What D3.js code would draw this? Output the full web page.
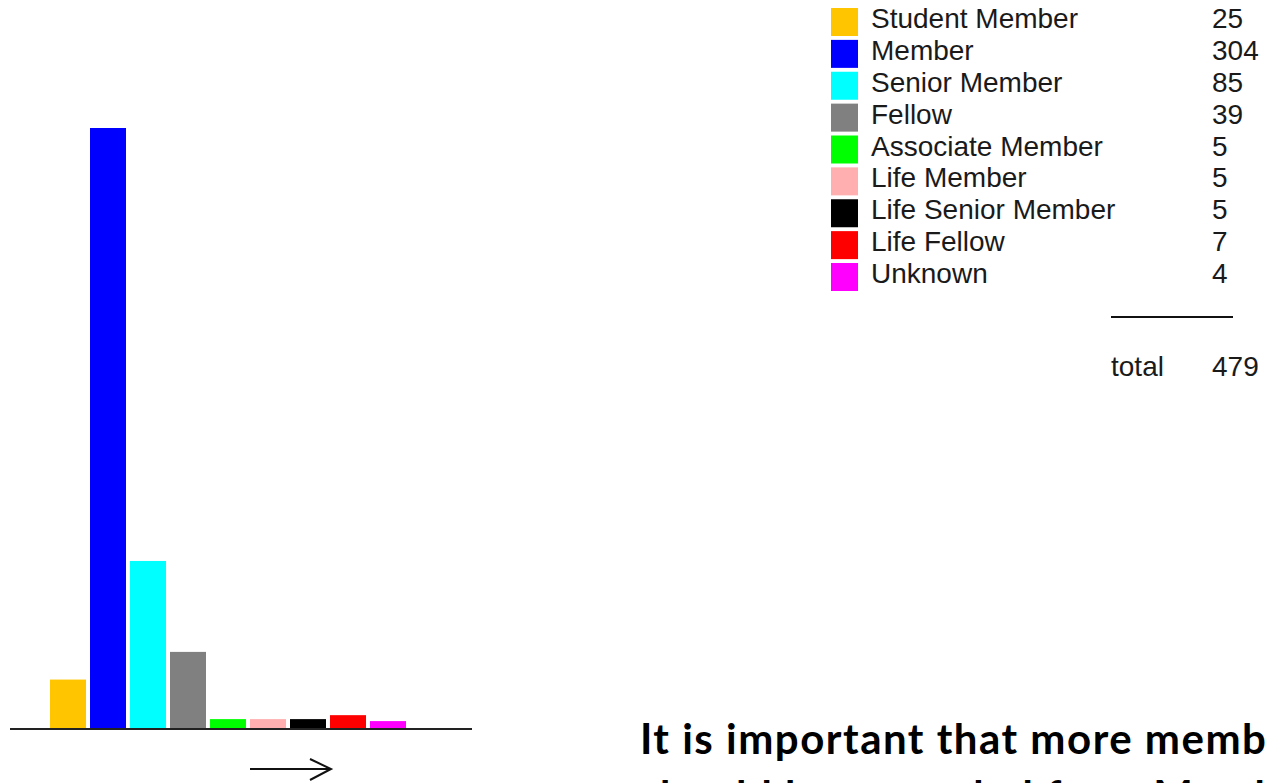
<!DOCTYPE html>
<html>
<head>
<meta charset="utf-8">
<script src="https://cdn.jsdelivr.net/npm/d3@7"></script>
<style>
  html, body { margin: 0; padding: 0; background: #fff; }
  svg { display: block; }
</style>
</head>
<body>
<svg id="chart" width="1265" height="783"></svg>
<script>
const categories = ["Student Member", "Member", "Senior Member", "Fellow", "Associate Member", "Life Member", "Life Senior Member", "Life Fellow", "Unknown"];
const counts = [25, 304, 85, 39, 5, 5, 5, 7, 4];
const colors = ["#ffc600", "#0000ff", "#00ffff", "#808080", "#00ff00", "#ffafaf", "#000000", "#ff0000", "#ff00ff"];
const totalLabel = "total";
const totalValue = 479;
const noteLines = ["It is important that more members", "should be upgraded from Member to Senior Member"];

const svg = d3.select("#chart");

const x = d3.scaleBand().domain(categories).range([48, 408]).paddingInner(0.1).paddingOuter(0.05);
const y = d3.scaleLinear().domain([0, 304]).range([729, 128]);
const color = d3.scaleOrdinal().domain(categories).range(colors);

// bars
svg.append("g").selectAll("rect")
  .data(categories)
  .join("rect")
  .attr("x", d => x(d))
  .attr("width", x.bandwidth())
  .attr("y", (d, i) => y(counts[i]))
  .attr("height", (d, i) => y(0) - y(counts[i]))
  .attr("fill", d => color(d));

// baseline
svg.append("line")
  .attr("x1", 10).attr("x2", 472)
  .attr("y1", y(0)).attr("y2", y(0))
  .attr("stroke", "#222").attr("stroke-width", 2);

// arrow
const arrow = svg.append("g").attr("stroke", "#111").attr("stroke-width", 2).attr("fill", "none");
arrow.append("line").attr("x1", 250).attr("x2", 331).attr("y1", 769).attr("y2", 769);
arrow.append("path").attr("d", "M310,759 L331,769 L310,780");

// legend
const ly = d3.scalePoint().domain(categories).range([28, 283]);
const leg = svg.append("g");
const rows = leg.selectAll("g").data(categories).join("g");
rows.append("rect")
  .attr("x", 831).attr("y", d => ly(d) - 20)
  .attr("width", 27).attr("height", 28)
  .attr("fill", d => color(d));
rows.append("text")
  .attr("x", 871).attr("y", d => ly(d))
  .attr("font-family", "Liberation Sans, Arial, sans-serif")
  .attr("font-size", 28).attr("fill", "#1a1a1a")
  .text(d => d);
rows.append("text")
  .attr("x", 1212).attr("y", d => ly(d))
  .attr("font-family", "Liberation Sans, Arial, sans-serif")
  .attr("font-size", 28).attr("fill", "#1a1a1a")
  .text((d, i) => counts[i]);

leg.append("line").attr("x1", 1111).attr("x2", 1233).attr("y1", 317).attr("y2", 317)
  .attr("stroke", "#111").attr("stroke-width", 2);
leg.append("text").attr("x", 1111).attr("y", 376)
  .attr("font-family", "Liberation Sans, Arial, sans-serif")
  .attr("font-size", 28).attr("fill", "#1a1a1a").text(totalLabel);
leg.append("text").attr("x", 1212).attr("y", 376)
  .attr("font-family", "Liberation Sans, Arial, sans-serif")
  .attr("font-size", 28).attr("fill", "#1a1a1a").text(totalValue);

// note text
svg.append("g").selectAll("text").data(noteLines).join("text")
  .attr("x", 640).attr("y", (d, i) => 754 + i * 57)
  .attr("font-family", "Lato, sans-serif")
  .attr("font-weight", "bold")
  .attr("font-size", 42)
  .attr("letter-spacing", 1.5)
  .attr("fill", "#000")
  .text(d => d);
</script>
</body>
</html>
